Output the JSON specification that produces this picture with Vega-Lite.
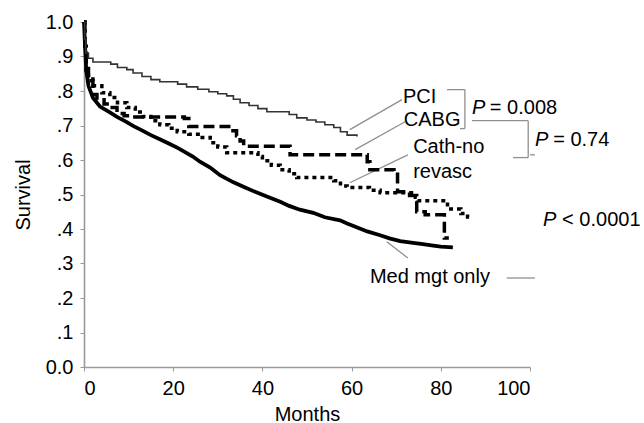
{
  "$schema": "https://vega.github.io/schema/vega-lite/v6.json",
  "width": 446,
  "height": 345,
  "autosize": {"type": "none"},
  "padding": {"left": 84, "top": 22, "right": 114, "bottom": 56},
  "background": "white",
  "config": {
    "view": {"stroke": null},
    "font": "Liberation Sans",
    "axis": {
      "grid": false,
      "domainColor": "#9a9a9a",
      "domainWidth": 1.6,
      "tickColor": "#9a9a9a",
      "tickSize": 4,
      "labelPadding": 7,
      "labelFont": "Liberation Sans",
      "labelFontSize": 20,
      "labelColor": "#000",
      "titleFont": "Liberation Sans",
      "titleFontSize": 20,
      "titleFontWeight": "normal",
      "titleColor": "#000"
    }
  },
  "datasets": {
    "curves": [
      {"series":"PCI","x":0,"y":1.0},{"series":"PCI","x":0.15,"y":0.95},{"series":"PCI","x":0.4,"y":0.91},{"series":"PCI","x":1,"y":0.895},{"series":"PCI","x":2,"y":0.884},{"series":"PCI","x":6,"y":0.878},{"series":"PCI","x":7.5,"y":0.868},{"series":"PCI","x":9.6,"y":0.862},{"series":"PCI","x":11,"y":0.852},{"series":"PCI","x":13,"y":0.842},{"series":"PCI","x":15,"y":0.833},{"series":"PCI","x":17,"y":0.827},{"series":"PCI","x":21,"y":0.82},{"series":"PCI","x":23,"y":0.812},{"series":"PCI","x":25.5,"y":0.805},{"series":"PCI","x":28,"y":0.798},{"series":"PCI","x":30,"y":0.792},{"series":"PCI","x":32,"y":0.786},{"series":"PCI","x":33.5,"y":0.776},{"series":"PCI","x":35,"y":0.766},{"series":"PCI","x":37,"y":0.758},{"series":"PCI","x":39,"y":0.749},{"series":"PCI","x":41,"y":0.74},{"series":"PCI","x":46,"y":0.732},{"series":"PCI","x":47.7,"y":0.722},{"series":"PCI","x":50,"y":0.716},{"series":"PCI","x":52,"y":0.71},{"series":"PCI","x":54,"y":0.702},{"series":"PCI","x":56,"y":0.694},{"series":"PCI","x":57.5,"y":0.682},{"series":"PCI","x":59,"y":0.672},{"series":"PCI","x":61.2,"y":0.668},
      {"series":"CABG","x":0,"y":1.0},{"series":"CABG","x":0.2,"y":0.92},{"series":"CABG","x":0.5,"y":0.86},{"series":"CABG","x":1,"y":0.83},{"series":"CABG","x":2,"y":0.79},{"series":"CABG","x":2.9,"y":0.775},{"series":"CABG","x":4.5,"y":0.762},{"series":"CABG","x":5.8,"y":0.752},{"series":"CABG","x":7.4,"y":0.735},{"series":"CABG","x":9,"y":0.728},{"series":"CABG","x":10.3,"y":0.725},{"series":"CABG","x":22.5,"y":0.72},{"series":"CABG","x":23.5,"y":0.697},{"series":"CABG","x":33.4,"y":0.685},{"series":"CABG","x":34.2,"y":0.67},{"series":"CABG","x":35,"y":0.655},{"series":"CABG","x":35.8,"y":0.64},{"series":"CABG","x":46.2,"y":0.615},{"series":"CABG","x":63.5,"y":0.595},{"series":"CABG","x":64.1,"y":0.572},{"series":"CABG","x":69.5,"y":0.565},{"series":"CABG","x":70.3,"y":0.508},{"series":"CABG","x":73,"y":0.497},{"series":"CABG","x":74.6,"y":0.45},{"series":"CABG","x":76.5,"y":0.441},{"series":"CABG","x":80.8,"y":0.374},{"series":"CABG","x":81.8,"y":0.374},
      {"series":"Cath","x":0,"y":1.0},{"series":"Cath","x":0.2,"y":0.93},{"series":"Cath","x":0.5,"y":0.865},{"series":"Cath","x":1,"y":0.835},{"series":"Cath","x":2,"y":0.815},{"series":"Cath","x":4,"y":0.795},{"series":"Cath","x":5.8,"y":0.781},{"series":"Cath","x":7.5,"y":0.766},{"series":"Cath","x":9.6,"y":0.752},{"series":"Cath","x":11.5,"y":0.739},{"series":"Cath","x":13.2,"y":0.726},{"series":"Cath","x":15,"y":0.714},{"series":"Cath","x":17,"y":0.702},{"series":"Cath","x":19,"y":0.692},{"series":"Cath","x":20.9,"y":0.682},{"series":"Cath","x":23.5,"y":0.675},{"series":"Cath","x":26,"y":0.665},{"series":"Cath","x":28.3,"y":0.65},{"series":"Cath","x":30,"y":0.638},{"series":"Cath","x":32,"y":0.621},{"series":"Cath","x":39,"y":0.61},{"series":"Cath","x":40,"y":0.598},{"series":"Cath","x":42,"y":0.585},{"series":"Cath","x":44,"y":0.572},{"series":"Cath","x":46,"y":0.56},{"series":"Cath","x":47.7,"y":0.549},{"series":"Cath","x":56,"y":0.54},{"series":"Cath","x":57.5,"y":0.525},{"series":"Cath","x":59,"y":0.52},{"series":"Cath","x":64,"y":0.512},{"series":"Cath","x":66.4,"y":0.505},{"series":"Cath","x":74.3,"y":0.492},{"series":"Cath","x":74.8,"y":0.482},{"series":"Cath","x":81.5,"y":0.458},{"series":"Cath","x":84.5,"y":0.445},{"series":"Cath","x":86,"y":0.435},{"series":"Cath","x":87,"y":0.435},
      {"series":"Med","x":0,"y":1.0},{"series":"Med","x":0.2,"y":0.94},{"series":"Med","x":0.5,"y":0.86},{"series":"Med","x":1,"y":0.815},{"series":"Med","x":2,"y":0.78},{"series":"Med","x":3.6,"y":0.755},{"series":"Med","x":5.8,"y":0.738},{"series":"Med","x":7.4,"y":0.725},{"series":"Med","x":9.6,"y":0.71},{"series":"Med","x":11,"y":0.699},{"series":"Med","x":13,"y":0.686},{"series":"Med","x":15,"y":0.672},{"series":"Med","x":17,"y":0.66},{"series":"Med","x":19,"y":0.648},{"series":"Med","x":21,"y":0.635},{"series":"Med","x":24.4,"y":0.61},{"series":"Med","x":26,"y":0.595},{"series":"Med","x":28.3,"y":0.578},{"series":"Med","x":30.5,"y":0.556},{"series":"Med","x":33.4,"y":0.536},{"series":"Med","x":36,"y":0.521},{"series":"Med","x":38.5,"y":0.507},{"series":"Med","x":41,"y":0.494},{"series":"Med","x":44,"y":0.479},{"series":"Med","x":46,"y":0.467},{"series":"Med","x":48.4,"y":0.456},{"series":"Med","x":51.4,"y":0.447},{"series":"Med","x":54,"y":0.434},{"series":"Med","x":57.4,"y":0.425},{"series":"Med","x":59,"y":0.416},{"series":"Med","x":61,"y":0.406},{"series":"Med","x":63.5,"y":0.393},{"series":"Med","x":66.4,"y":0.382},{"series":"Med","x":68.5,"y":0.373},{"series":"Med","x":70.9,"y":0.365},{"series":"Med","x":73.8,"y":0.36},{"series":"Med","x":76,"y":0.356},{"series":"Med","x":78.3,"y":0.352},{"series":"Med","x":80,"y":0.349},{"series":"Med","x":82.7,"y":0.347}
    ],
    "segs": [
      {"x":59.6,"y":0.688,"x2":71.3,"y2":0.775},
      {"x":60.8,"y":0.63,"x2":72.0,"y2":0.711},
      {"x":59.6,"y":0.534,"x2":72.6,"y2":0.615},
      {"x":67.9,"y":0.363,"x2":72.6,"y2":0.316},
      {"x":94.8,"y":0.258,"x2":101.1,"y2":0.258},
      {"x":81.4,"y":0.804,"x2":85.4,"y2":0.804},
      {"x":85.4,"y":0.804,"x2":85.4,"y2":0.691},
      {"x":84.3,"y":0.691,"x2":85.4,"y2":0.691},
      {"x":87.0,"y":0.714,"x2":99.6,"y2":0.714},
      {"x":99.6,"y":0.714,"x2":99.6,"y2":0.607},
      {"x":96.2,"y":0.607,"x2":99.6,"y2":0.607},
      {"x":100.0,"y":0.615,"x2":101.1,"y2":0.615}
    ],
    "labels": [
      {"x":71.5,"y":0.784,"label":"PCI"},
      {"x":71.7,"y":0.717,"label":"CABG"},
      {"x":73.8,"y":0.639,"label":"Cath-no"},
      {"x":73.8,"y":0.566,"label":"revasc"},
      {"x":64.1,"y":0.261,"label":"Med mgt only"},
      {"x":91.0,"y":0.752,"label":"= 0.008"},
      {"x":105.2,"y":0.659,"label":"= 0.74"},
      {"x":107.2,"y":0.427,"label":"< 0.0001"}
    ],
    "pletters": [
      {"x":87.0,"y":0.752,"label":"P"},
      {"x":101.1,"y":0.659,"label":"P"},
      {"x":102.9,"y":0.427,"label":"P"}
    ]
  },
  "encoding": {
    "x": {"field":"x","type":"quantitative","scale":{"domain":[0,100],"nice":false},"axis":{"values":[0,20,40,60,80,100],"title":"Months","titlePadding":6}},
    "y": {"field":"y","type":"quantitative","scale":{"domain":[0,1],"nice":false},"axis":{"values":[0,0.1,0.2,0.3,0.4,0.5,0.6,0.7,0.8,0.9,1.0],"title":"Survival","titlePadding":12,"labelExpr":"datum.value == 0 ? '0.0' : datum.value == 1 ? '1.0' : replace(format(datum.value, '.1f'), '0.', '.')"}}
  },
  "layer": [
    {"data":{"name":"segs"},"mark":{"type":"rule","color":"#8f8f8f","strokeWidth":1.3},"encoding":{"x2":{"field":"x2"},"y2":{"field":"y2"}}},
    {"data":{"name":"curves"},"transform":[{"filter":"datum.series == 'Med'"}],"mark":{"type":"line","interpolate":"linear","color":"#000","strokeWidth":3.8},"encoding":{}},
    {"data":{"name":"curves"},"transform":[{"filter":"datum.series == 'Cath'"}],"mark":{"type":"line","interpolate":"step-after","color":"#000","strokeWidth":3.5,"strokeDash":[4,4]},"encoding":{}},
    {"data":{"name":"curves"},"transform":[{"filter":"datum.series == 'CABG'"}],"mark":{"type":"line","interpolate":"step-after","color":"#000","strokeWidth":3.5,"strokeDash":[11,5]},"encoding":{}},
    {"data":{"name":"curves"},"transform":[{"filter":"datum.series == 'PCI'"}],"mark":{"type":"line","interpolate":"step-after","color":"#333","strokeWidth":1.6},"encoding":{}},
    {"data":{"name":"labels"},"mark":{"type":"text","align":"left","baseline":"middle","fontSize":20,"font":"Liberation Sans","color":"#000"},"encoding":{"text":{"field":"label"}}},
    {"data":{"name":"pletters"},"mark":{"type":"text","align":"left","baseline":"middle","fontSize":20,"font":"Liberation Sans","fontStyle":"italic","color":"#000"},"encoding":{"text":{"field":"label"}}}
  ]
}
